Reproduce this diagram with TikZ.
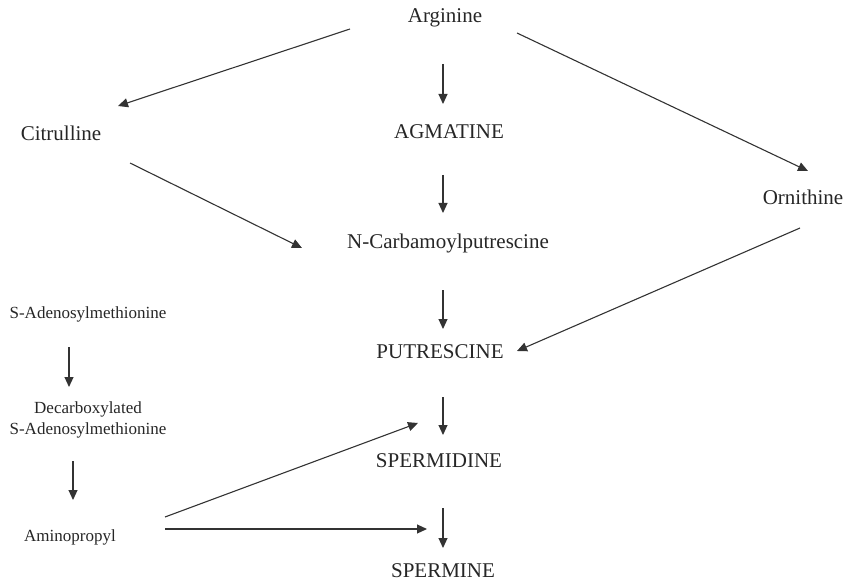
\documentclass[tikz,border=0pt]{standalone}
\usepackage{fontspec}
\setmainfont{Liberation Serif}
\usepackage{tikz}
\usetikzlibrary{calc,arrows.meta}

\tikzset{
  metab/.style={font=\fontsize{21}{24}\selectfont, text=black!85, inner sep=0pt},
  cofac/.style={font=\fontsize{17}{21}\selectfont, text=black!85, inner sep=0pt, align=center},
  conv/.style={-{Triangle[length=10pt,width=9pt]}, line width=1.1pt, draw=black!80}
}

\begin{document}
\begin{tikzpicture}[x=1pt,y=-1pt]
    \useasboundingbox (0,0) rectangle (844,583);

    \node[metab] (arg)  at (445,18)  {Arginine};
    \node[metab] (cit)  at (61,133)  {Citrulline};
    \node[metab] (agm)  at (449,132) {AGMATINE};
    \node[metab] (orn)  at (803,197) {Ornithine};
    \node[metab] (ncb)  at (448,243) {N-Carbamoylputrescine};
    \node[metab] (put)  at (440,352) {PUTRESCINE};
    \node[metab] (spd)  at (439,461) {SPERMIDINE};
    \node[metab] (spm)  at (443,571) {SPERMINE};

    \node[cofac] (sam)  at (88,314)  {S-Adenosylmethionine};
    \node[cofac] (dsam) at (88,420)  {Decarboxylated\\S-Adenosylmethionine};
    \node[cofac] (apr)  at (70,537)  {Aminopropyl};

    \path ($(arg)+(-95,11)$)  edge[conv] ($(cit)+(57,-27)$)
          ($(arg)+(-2,46)$)   edge[conv] ($(agm)+(-6,-28)$)
          ($(arg)+(72,15)$)   edge[conv] ($(orn)+(5,-26)$)
          ($(cit)+(69,30)$)   edge[conv] ($(ncb)+(-146,5)$)
          ($(agm)+(-6,43)$)   edge[conv] ($(ncb)+(-5,-30)$)
          ($(ncb)+(-5,47)$)   edge[conv] ($(put)+(3,-23)$)
          ($(orn)+(-3,31)$)   edge[conv] ($(put)+(77,-1)$)
          ($(put)+(3,45)$)    edge[conv] ($(spd)+(4,-26)$)
          ($(spd)+(4,47)$)    edge[conv] ($(spm)+(0,-23)$)
          ($(sam)+(-19,33)$)  edge[conv] ($(dsam)+(-19,-33)$)
          ($(dsam)+(-15,41)$) edge[conv] ($(apr)+(3,-37)$)
          ($(apr)+(95,-20)$)  edge[conv] ($(spd)+(-21,-38)$)
          ($(apr)+(95,-8)$)   edge[conv] ($(spm)+(-16,-42)$);
\end{tikzpicture}
\end{document}
